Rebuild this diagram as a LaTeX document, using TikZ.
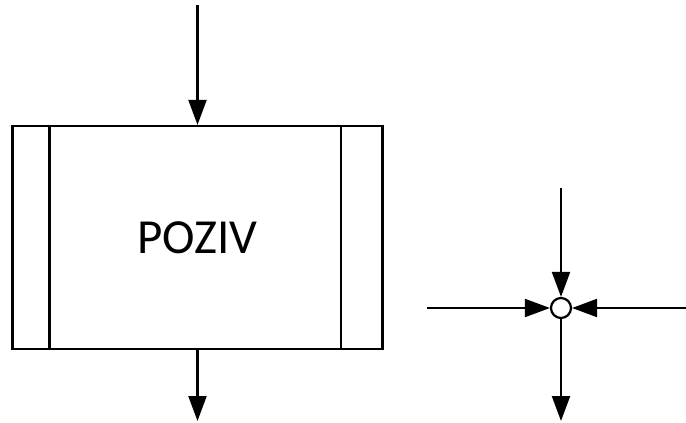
\documentclass[tikz,border=0pt]{standalone}
\usepackage{fontspec}
\setmainfont{Carlito}
\usetikzlibrary{arrows.meta}
\begin{document}
\begin{tikzpicture}[x=1pt,y=-1pt,
  line/.style={line width=2.2pt,black},
  arr/.style={line, -{Triangle[length=25pt,width=18pt]}},
  proc/.style={draw=black,line width=2.2pt,minimum width=370pt,minimum height=223pt,inner sep=0pt,font=\fontsize{49}{54}\selectfont},
  junction/.style={circle,draw=black,line width=2.2pt,minimum size=20pt,inner sep=0pt,fill=white}]
\useasboundingbox (0,0) rectangle (686,423);
\node[proc] (box) at (197.5,237.5) {POZIV};
\draw[line] ([xshift=38pt]box.north west) -- ([xshift=38pt]box.south west);
\draw[line] ([xshift=-43pt]box.north east) -- ([xshift=-43pt]box.south east);
\coordinate (tin) at (197.5,5);
\coordinate (bout) at (197.5,421);
\draw[arr] (tin) -- (box.north);
\draw[arr] (box.south) -- (bout);
\node[junction] (j) at (561,308) {};
\coordinate (jt) at (561,188);
\coordinate (jl) at (427,308);
\coordinate (jr) at (686,308);
\coordinate (jb) at (561,421);
\draw[arr] (jt) -- (j.north);
\draw[arr] (jl) -- (j.west);
\draw[arr] (jr) -- (j.east);
\draw[arr] (j.south) -- (jb);
\end{tikzpicture}
\end{document}
